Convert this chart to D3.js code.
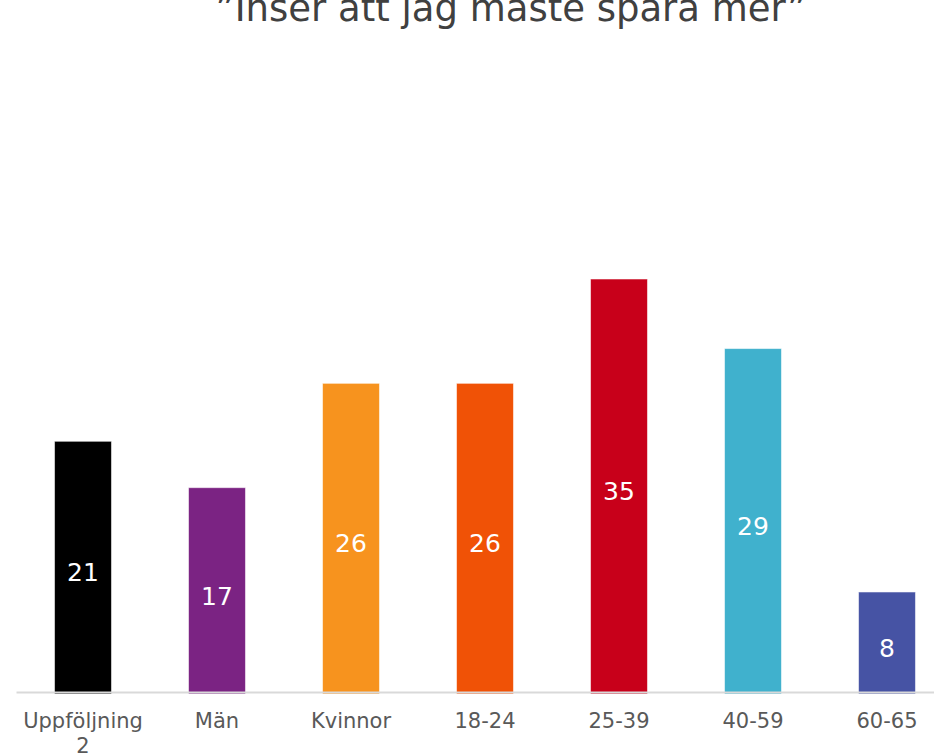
<!DOCTYPE html>
<html>
<head>
<meta charset="utf-8">
<script src="https://cdn.jsdelivr.net/npm/d3@7"></script>
<style>
  body { margin: 0; background: #fff; }
  svg { display: block; font-family: "DejaVu Sans", Verdana, sans-serif; }
</style>
</head>
<body>
<div id="chart"></div>
<script>
const categories = ["Uppföljning 2", "Män", "Kvinnor", "18-24", "25-39", "40-59", "60-65"];
const values = [21, 17, 26, 26, 35, 29, 8];
const colors = ["#000000", "#7b2383", "#f7931e", "#f05206", "#c8001a", "#40b1cd", "#4653a4"];
const title = "\u201dInser att jag maste spara mer\u201d";

const width = 934;
const height = 754;

const svg = d3.select("#chart").append("svg")
    .attr("width", width)
    .attr("height", height);

svg.append("text")
    .attr("x", 511)
    .attr("y", 21)
    .attr("text-anchor", "middle")
    .attr("font-size", 37)
    .attr("fill", "#404040")
    .text(title);

const x = d3.scaleBand()
    .domain(categories)
    .range([16, 954])
    .paddingInner(0.575)
    .paddingOuter(0.2875);

// bars hang a little below the axis line, as in the original
const y = d3.scaleLinear().domain([-0.8, 35]).range([694, 279]);

const bars = svg.append("g").classed("bars", true);

bars.selectAll("rect")
    .data(values)
    .enter()
    .append("rect")
    .attr("x", (d, i) => x(categories[i]))
    .attr("y", d => y(d))
    .attr("width", x.bandwidth())
    .attr("height", d => y(-0.8) - y(d))
    .attr("fill", (d, i) => colors[i])
    .attr("stroke", "rgba(255,255,255,0.55)")
    .attr("stroke-width", 1);

bars.selectAll("text")
    .data(values)
    .enter()
    .append("text")
    .attr("x", (d, i) => x(categories[i]) + x.bandwidth() / 2)
    .attr("y", d => (y(d) + y(-0.8)) / 2 + 5)
    .attr("dy", "0.35em")
    .attr("text-anchor", "middle")
    .attr("font-size", 25)
    .attr("fill", "#ffffff")
    .text(d => d);

const axis = svg.append("g")
    .attr("transform", "translate(0, 692)")
    .call(d3.axisBottom(x).tickSize(0).tickPadding(0));

axis.select(".domain")
    .attr("stroke", "#d9d9d9")
    .attr("stroke-width", 2);

axis.selectAll(".tick text").remove();

axis.selectAll(".tick")
    .append("text")
    .attr("fill", "#595959")
    .attr("font-size", 21)
    .attr("font-family", "DejaVu Sans, Verdana, sans-serif")
    .attr("text-anchor", "middle")
    .each(function(d) {
        const words = d.split(" ");
        const t = d3.select(this);
        words.forEach((w, k) => {
            t.append("tspan")
                .attr("x", 0)
                .attr("y", 36 + k * 25)
                .text(w);
        });
    });
</script>
</body>
</html>
